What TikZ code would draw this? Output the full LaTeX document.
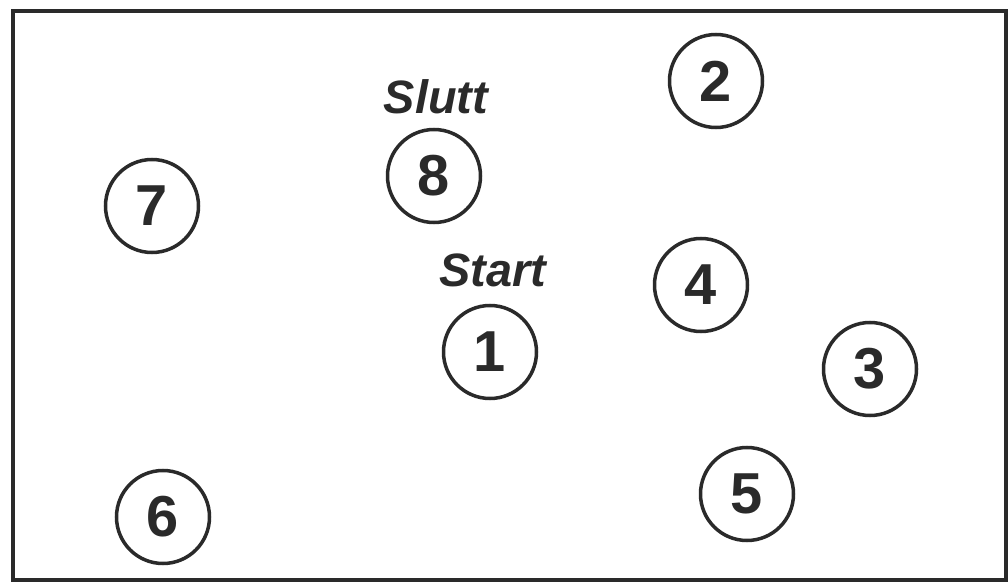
\documentclass[tikz,border=0pt]{standalone}
\usepackage{fontspec}
\setmainfont{Liberation Sans}
\definecolor{ink}{RGB}{42,42,42}
\begin{document}
\begin{tikzpicture}[x=1bp, y=-1bp, every node/.style={text=ink}]
\tikzset{spot/.style={circle, draw=ink, line width=3.5bp, minimum size=93bp, inner sep=0pt, font=\fontsize{58}{58}\selectfont\bfseries},
         tag/.style={font=\fontsize{47}{47}\selectfont\bfseries\itshape}}
\useasboundingbox (0,0) rectangle (1008,584);
% frame
\draw[ink, line width=4bp] (13,11) rectangle (1006,580);
% numbered spots
\node[spot] (n1) at (490,352) {1}; \node[spot] (n2) at (716,81) {2}; \node[spot] (n3) at (870,369) {3}; \node[spot] (n4) at (701,285) {4};
\node[spot] (n5) at (747,494) {5}; \node[spot] (n6) at (163,517) {6}; \node[spot] (n7) at (152,206) {7}; \node[spot] (n8) at (434,176) {8};
% start and end labels
\node[tag] (slutt) at (436,97) {Slutt};
\node[tag] (start) at (493,270) {Start};
\end{tikzpicture}
\end{document}
